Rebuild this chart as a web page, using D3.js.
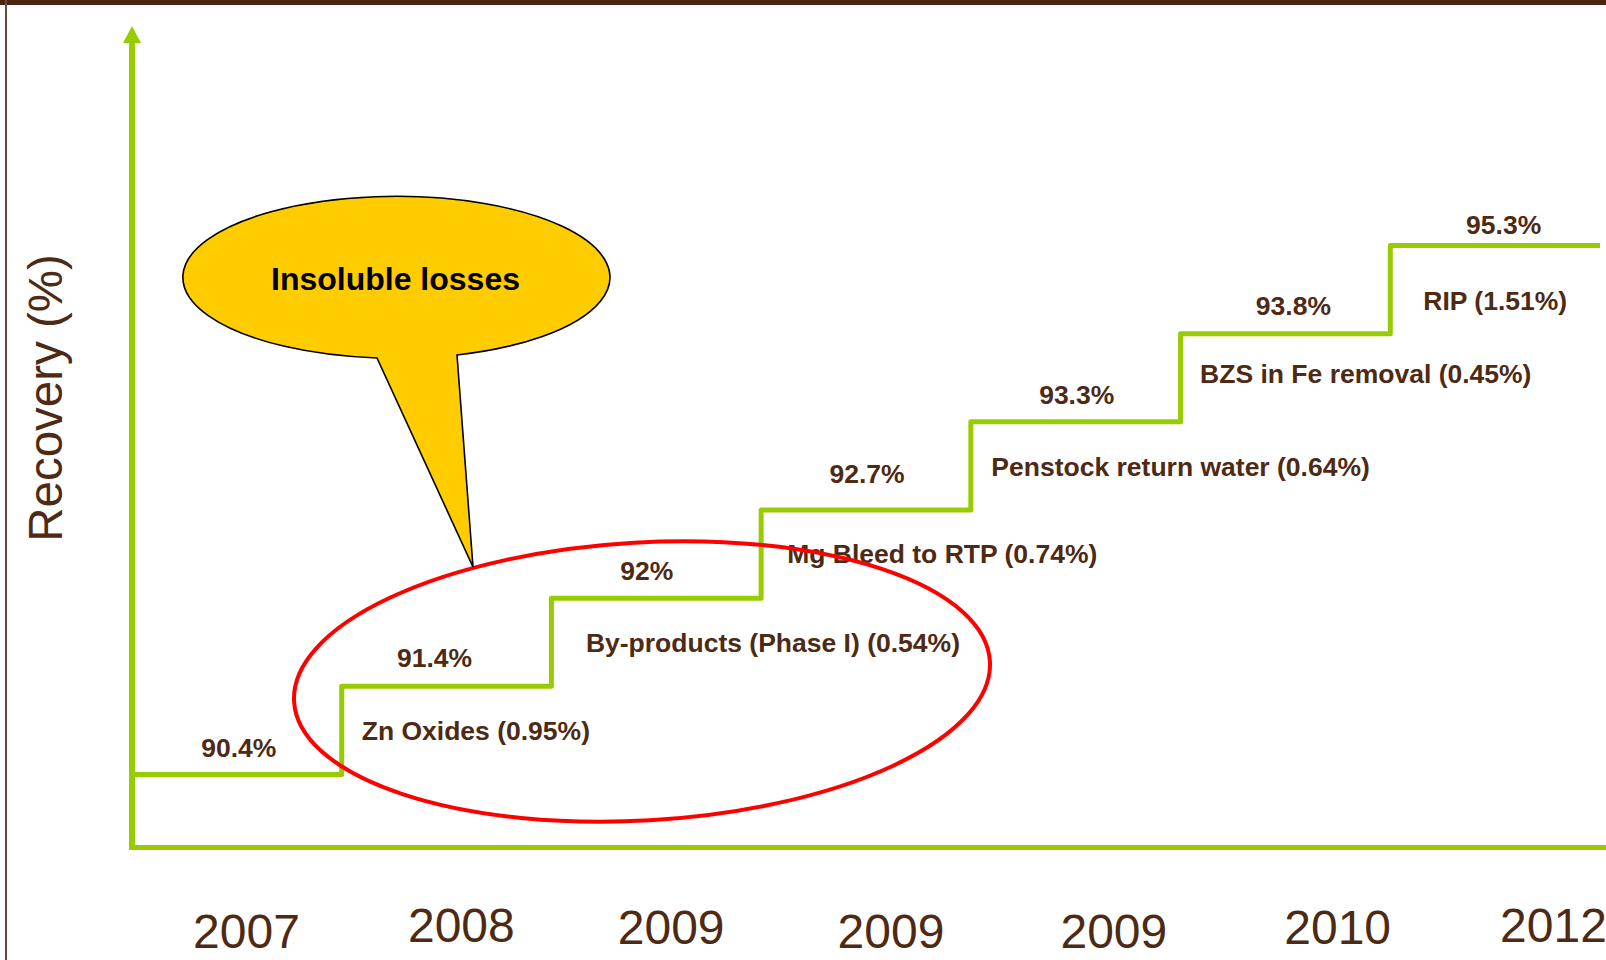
<!DOCTYPE html>
<html>
<head>
<meta charset="utf-8">
<script src="https://cdn.jsdelivr.net/npm/d3@7"></script>
<style>
  html, body { margin: 0; padding: 0; background: #fff; }
  svg { display: block; font-family: "Liberation Sans", Arial, sans-serif; }
</style>
</head>
<body>
<svg id="chart" width="1606" height="960"></svg>
<script>
// Zinc recovery milestones
const years = ["2007", "2008", "2009", "2009", "2009", "2010", "2012"];
const recovery = [90.4, 91.4, 92, 92.7, 93.3, 93.8, 95.3];
const recoveryLabels = ["90.4%", "91.4%", "92%", "92.7%", "93.3%", "93.8%", "95.3%"];
const improvements = [
  "Zn Oxides (0.95%)",
  "By-products (Phase I) (0.54%)",
  "Mg Bleed to RTP (0.74%)",
  "Penstock return water (0.64%)",
  "BZS in Fe removal (0.45%)",
  "RIP (1.51%)"
];
const calloutText = "Insoluble losses";
const axisTitle = "Recovery (%)";

// hand-placed text offsets (px) used by the slide layout
const yearShift = [[0, 3], [-3, -3], [-11, -1], [-9, 3], [-4, 3], [2, -1], [0, -3]];
const valueShift = [[2, 0], [-12, -1], [-9.5, 0], [1, -9], [1, 0], [8, -1], [8.5, 6]];
const noteShift = [[-4, 0.5], [10.5, 0.5], [2, 0], [-3.5, 1], [-4.5, -4], [9, 11]];

const BROWN = "#4e2a15";
const GREEN = "#99cc00";

const svg = d3.select("#chart");

// page frame: dark band on top, thin rule on the left
svg.append("rect").attr("x", 0).attr("y", 0).attr("width", 1606).attr("height", 5).attr("fill", "#4a2511");
svg.append("rect").attr("x", 5).attr("y", 0).attr("width", 2).attr("height", 960).attr("fill", "#6b4a3a");

// scales: one band per milestone, one level per recovery value
const idx = d3.range(recovery.length);
const x = d3.scaleBand().domain(idx).range([132, 1600]).padding(0);
const y = d3.scalePoint().domain(recovery).range([774.5, 245.5]);
const xYear = d3.scalePoint().domain(idx).range([246, 1553]);

// axes drawn as thick green rules with an arrow on the vertical one
svg.append("line")
  .attr("x1", 130).attr("x2", 1606).attr("y1", 847.5).attr("y2", 847.5)
  .attr("stroke", GREEN).attr("stroke-width", 5);
svg.append("line")
  .attr("x1", 132).attr("x2", 132).attr("y1", 850).attr("y2", 40)
  .attr("stroke", GREEN).attr("stroke-width", 6);
svg.append("path")
  .attr("d", "M123,43 L141,43 L132,26 Z")
  .attr("fill", GREEN);

// year labels along the bottom
const yearAxis = svg.append("g")
  .attr("transform", "translate(0,945)")
  .call(d3.axisBottom(xYear).tickSize(0).tickPadding(0).tickFormat(i => years[i]));
yearAxis.select(".domain").remove();
yearAxis.selectAll("text")
  .attr("x", i => yearShift[i][0])
  .attr("y", i => yearShift[i][1])
  .attr("dy", 0)
  .attr("font-family", "'Liberation Sans', Arial, sans-serif")
  .attr("font-size", 48)
  .attr("fill", BROWN);

// vertical axis title
svg.append("text")
  .attr("transform", "translate(62,398) rotate(-90)")
  .attr("text-anchor", "middle")
  .attr("font-size", 47.5)
  .attr("fill", BROWN)
  .text(axisTitle);

// staircase of recovery levels
const pts = idx.map(i => [x(i), y(recovery[i])]);
pts.push([x(idx.length - 1) + x.bandwidth(), y(recovery[recovery.length - 1])]);
svg.append("path")
  .attr("d", d3.line().curve(d3.curveStepAfter)(pts))
  .attr("fill", "none")
  .attr("stroke", GREEN)
  .attr("stroke-width", 5)
  .attr("stroke-linejoin", "round");

// recovery value on top of each level
svg.append("g").selectAll("text")
  .data(idx)
  .join("text")
  .attr("x", i => x(i) + x.bandwidth() / 2 + valueShift[i][0])
  .attr("y", i => y(recovery[i]) - 18 + valueShift[i][1])
  .attr("text-anchor", "middle")
  .attr("font-size", 26.5)
  .attr("font-weight", "bold")
  .attr("fill", BROWN)
  .text(i => recoveryLabels[i]);

// improvement that produced each step, beside its riser
svg.append("g").selectAll("text")
  .data(improvements)
  .join("text")
  .attr("x", (d, k) => x(k + 1) + 24 + noteShift[k][0])
  .attr("y", (d, k) => (y(recovery[k]) + y(recovery[k + 1])) / 2 + 9 + noteShift[k][1])
  .attr("font-size", 26.5)
  .attr("font-weight", "bold")
  .attr("fill", BROWN)
  .text(d => d);

// red ring around the insoluble-loss steps
svg.append("ellipse")
  .attr("cx", 642).attr("cy", 681.5)
  .attr("rx", 348.5).attr("ry", 139)
  .attr("transform", "rotate(-3.3,642,681.5)")
  .attr("fill", "none")
  .attr("stroke", "#ff0000")
  .attr("stroke-width", 4);

// speech-bubble callout
svg.append("path")
  .attr("d", "M377,358 A213.5,81 0 1,1 457,355 L473,567 Z")
  .attr("fill", "#ffcc00")
  .attr("stroke", "#000")
  .attr("stroke-width", 1.6)
  .attr("stroke-linejoin", "miter");
svg.append("text")
  .attr("x", 395.5).attr("y", 290)
  .attr("text-anchor", "middle")
  .attr("font-size", 32)
  .attr("font-weight", "bold")
  .attr("fill", "#000")
  .text(calloutText);
</script>
</body>
</html>
